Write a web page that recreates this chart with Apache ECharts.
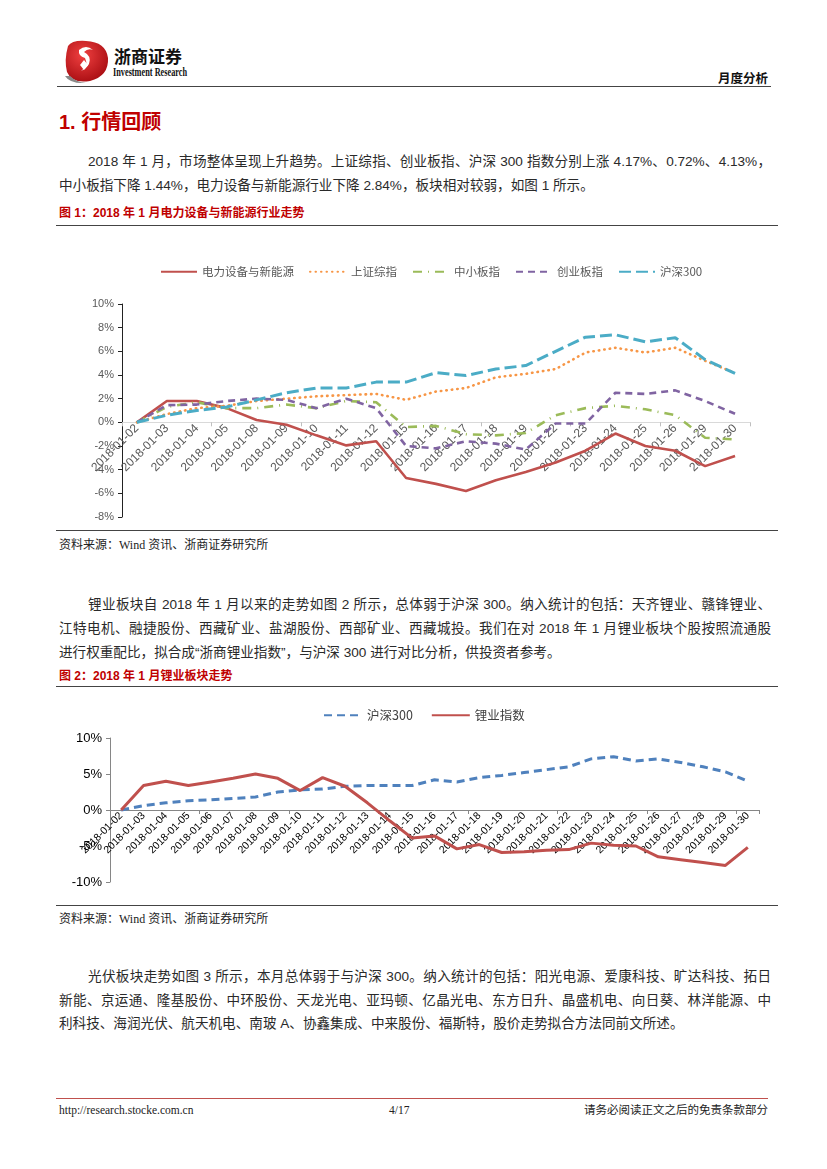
<!DOCTYPE html>
<html>
<head>
<meta charset="utf-8">
<script src="https://cdn.jsdelivr.net/npm/echarts@6/dist/echarts.min.js"></script>
<style>
  html,body{margin:0;padding:0;background:#fff;}
  body{width:827px;height:1169px;position:relative;overflow:hidden;font-family:'Liberation Sans','Noto Sans CJK SC',sans-serif;color:#1a1a1a;}
  .abs{position:absolute;white-space:nowrap;}
  .line{position:absolute;height:0;}
  .para{position:absolute;font-size:13.6px;line-height:24px;height:24px;text-align:justify;text-align-last:justify;white-space:nowrap;color:#2a2a2a;}
  .last{text-align-last:left;}
  .cap{position:absolute;font-size:12px;font-weight:bold;color:#C00000;line-height:16px;}
  .src{position:absolute;font-size:12px;font-family:'Liberation Serif','Noto Sans CJK SC',serif;color:#222;line-height:16px;}
</style>
</head>
<body>
<script>
// ---------- data ----------
var categories1 = ['2018-01-02','2018-01-03','2018-01-04','2018-01-05','2018-01-08','2018-01-09','2018-01-10','2018-01-11','2018-01-12','2018-01-15','2018-01-16','2018-01-17','2018-01-18','2018-01-19','2018-01-22','2018-01-23','2018-01-24','2018-01-25','2018-01-26','2018-01-29','2018-01-30'];
var names1 = ['电力设备与新能源','上证综指','中小板指','创业板指','沪深300'];
var powerNew   = [0,1.8,1.8,1.2,0.2,-0.2,-1.1,-1.95,-1.6,-4.7,-5.2,-5.8,-4.9,-4.2,-3.4,-2.4,-0.95,-2.0,-2.4,-3.7,-2.84];
var shComp     = [0,0.7,1.2,1.4,1.8,2.0,2.2,2.3,2.4,1.9,2.6,2.9,3.8,4.1,4.5,5.9,6.3,5.9,6.3,5.2,4.17];
var smeBoard   = [0,1.3,1.7,1.2,1.2,1.5,1.2,1.8,1.7,-0.4,-0.3,-1.0,-1.1,-0.9,0.6,1.2,1.4,1.1,0.6,-1.3,-1.44];
var chinext    = [0,1.45,1.5,1.8,2.0,1.9,1.2,2.0,1.2,-2.0,-2.2,-1.6,-1.8,-2.3,-0.1,-0.1,2.5,2.4,2.7,1.8,0.72];
var hs300a     = [0,0.6,1.0,1.3,1.9,2.5,2.9,2.9,3.4,3.4,4.2,3.95,4.5,4.8,6.0,7.2,7.4,6.8,7.15,5.3,4.13];

var categories2 = ['2018-01-02','2018-01-03','2018-01-04','2018-01-05','2018-01-06','2018-01-07','2018-01-08','2018-01-09','2018-01-10','2018-01-11','2018-01-12','2018-01-13','2018-01-14','2018-01-15','2018-01-16','2018-01-17','2018-01-18','2018-01-19','2018-01-20','2018-01-21','2018-01-22','2018-01-23','2018-01-24','2018-01-25','2018-01-26','2018-01-27','2018-01-28','2018-01-29','2018-01-30'];
var names2 = ['沪深300','锂业指数'];
var hs300b     = [0,0.6,1.0,1.3,1.4,1.6,1.8,2.5,2.8,2.9,3.3,3.4,3.4,3.4,4.2,3.9,4.5,4.8,5.2,5.6,6.0,7.1,7.4,6.8,7.1,6.6,6.0,5.3,4.0];
var lithium    = [0,3.4,4.0,3.4,3.9,4.4,5.0,4.4,2.7,4.5,3.3,1.0,-1.5,-3.9,-3.6,-5.4,-4.8,-5.9,-5.8,-5.6,-5.5,-4.6,-4.9,-5.0,-6.5,-6.9,-7.3,-7.7,-5.2];

var yTicks1 = {min:-8, max:10, interval:2};
var yTicks2 = {min:-10, max:10, interval:5};
</script>

<!-- header -->
<svg class="abs" style="left:62px;top:38px;" width="50" height="46" viewBox="0 0 50 46">
  <defs>
    <radialGradient id="lg" cx="40%" cy="35%" r="70%">
      <stop offset="0%" stop-color="#f04040"/>
      <stop offset="100%" stop-color="#a80d12"/>
    </radialGradient>
  </defs>
  <path d="M6 8 Q10 2 24 3 Q44 4 46 20 Q47 38 28 43 Q10 46 5 34 Q2 22 6 8 Z" fill="url(#lg)"/>
  <path d="M3 38 Q8 46 24 45 Q14 44 8 38 Z" fill="#888"/>
  <path d="M17 12 Q24 6 31 12 Q26 10 22 14 Q30 18 27 26 Q24 31 19 33 Q27 28 23 20 Q16 18 17 12 Z" fill="#fff"/>
  <path d="M22 22 L26 27 L22 32 L18 27 Z" fill="#fff"/>
</svg>
<div class="abs" style="left:114px;top:45px;font-size:17px;font-weight:bold;font-family:'Noto Sans CJK SC';line-height:22px;color:#111;">浙商证券</div>
<div class="abs" style="left:113px;top:66px;font-size:11.5px;font-weight:bold;font-family:'Liberation Serif';line-height:13px;color:#111;transform:scaleX(0.72);transform-origin:left top;">Investment Research</div>
<div class="abs" style="left:718px;top:69px;font-size:12.5px;font-weight:bold;font-family:'Noto Sans CJK SC';line-height:17px;color:#111;">月度分析</div>
<div class="line" style="left:57px;top:86px;width:714px;border-top:1.5px solid #444;"></div>

<div class="abs" style="left:59px;top:108px;font-size:20px;font-weight:bold;color:#C00000;line-height:28px;font-family:'Liberation Sans','Noto Sans CJK SC';">1. 行情回顾</div>

<div class="para" style="left:88px;top:150px;width:683px;">2018 年 1 月，市场整体呈现上升趋势。上证综指、创业板指、沪深 300 指数分别上涨 4.17%、0.72%、4.13%，</div>
<div class="para last" style="left:59px;top:174px;width:712px;">中小板指下降 1.44%，电力设备与新能源行业下降 2.84%，板块相对较弱，如图 1 所示。</div>

<div class="cap" style="left:59px;top:205px;">图 1：2018 年 1 月电力设备与新能源行业走势</div>
<div class="line" style="left:56px;top:225px;width:722px;border-top:1.5px solid #444;"></div>

<div id="c1" style="position:absolute;left:0;top:230px;width:827px;height:296px;"></div>

<div class="line" style="left:56px;top:530px;width:722px;border-top:1.5px solid #444;"></div>
<div class="src" style="left:59px;top:537px;">资料来源：Wind 资讯、浙商证券研究所</div>

<div class="para" style="left:88px;top:593px;width:683px;">锂业板块自 2018 年 1 月以来的走势如图 2 所示，总体弱于沪深 300。纳入统计的包括：天齐锂业、赣锋锂业、</div>
<div class="para" style="left:59px;top:617px;width:712px;">江特电机、融捷股份、西藏矿业、盐湖股份、西部矿业、西藏城投。我们在对 2018 年 1 月锂业板块个股按照流通股</div>
<div class="para last" style="left:59px;top:641px;width:712px;">进行权重配比，拟合成“浙商锂业指数”，与沪深 300 进行对比分析，供投资者参考。</div>

<div class="cap" style="left:59px;top:668px;">图 2：2018 年 1 月锂业板块走势</div>
<div class="line" style="left:56px;top:686px;width:722px;border-top:1.5px solid #444;"></div>

<div id="c2" style="position:absolute;left:0;top:690px;width:827px;height:212px;"></div>

<div class="line" style="left:56px;top:905px;width:722px;border-top:1.5px solid #444;"></div>
<div class="src" style="left:59px;top:911px;">资料来源：Wind 资讯、浙商证券研究所</div>

<div class="para" style="left:88px;top:965px;width:683px;">光伏板块走势如图 3 所示，本月总体弱于与沪深 300。纳入统计的包括：阳光电源、爱康科技、旷达科技、拓日</div>
<div class="para" style="left:59px;top:989px;width:712px;">新能、京运通、隆基股份、中环股份、天龙光电、亚玛顿、亿晶光电、东方日升、晶盛机电、向日葵、林洋能源、中</div>
<div class="para last" style="left:59px;top:1012px;width:712px;">利科技、海润光伏、航天机电、南玻 A、协鑫集成、中来股份、福斯特，股价走势拟合方法同前文所述。</div>

<div class="line" style="left:56px;top:1098px;width:712px;border-top:1px solid #c0504d;"></div>
<div class="src" style="left:59px;top:1102px;font-size:11.5px;">http://research.stocke.com.cn</div>
<div class="src" style="left:389px;top:1102px;font-size:11.5px;">4/17</div>
<div class="src" style="left:580px;top:1102px;width:188px;text-align:right;font-size:11.5px;">请务必阅读正文之后的免责条款部分</div>

<script>
function placeLabelsOnZero(chart, yMin){
  var zeroPx = chart.convertToPixel({yAxisIndex:0}, 0);
  var botPx = chart.convertToPixel({yAxisIndex:0}, yMin);
  chart.setOption({xAxis:[{}, {offset: zeroPx - botPx}]});
}

var c1 = echarts.init(document.getElementById('c1'), null, {renderer:'canvas'});
var styles1 = [
  {color:'#C0504D', width:2.6, type:'solid'},
  {color:'#F79646', width:2.6, type:[0.5,5], cap:'round'},
  {color:'#9BBB59', width:2.6, type:[9,6,1,6], cap:'butt'},
  {color:'#8064A2', width:2.6, type:[7,5]},
  {color:'#4BACC6', width:3, type:[12,5]}
];
var data1 = [powerNew, shComp, smeBoard, chinext, hs300a];
c1.setOption({
  animation:false,
  legend:{
    left:155, top:31, itemWidth:36, itemHeight:10, itemGap:15,
    itemStyle:{opacity:0},
    textStyle:{color:'#595959', fontSize:11.5, fontFamily:'Noto Sans CJK SC'},
    data:names1
  },
  grid:{left:122, right:77, top:74, bottom:9, containLabel:false, outerBoundsMode:'none'},
  xAxis:[{
    type:'category', data:categories1, boundaryGap:true,
    axisLine:{onZero:true, lineStyle:{color:'#d9d9d9', width:1}},
    axisTick:{show:true, length:4, lineStyle:{color:'#bfbfbf'}},
    axisLabel:{show:false}
  },{
    type:'category', data:categories1, boundaryGap:true, position:'bottom', offset:0,
    axisLine:{show:false, onZero:false}, axisTick:{show:false},
    axisLabel:{rotate:45, interval:0, fontSize:12, color:'#595959', margin:4, fontFamily:'Liberation Sans'}
  }],
  yAxis:{
    type:'value', min:yTicks1.min, max:yTicks1.max, interval:yTicks1.interval,
    splitLine:{show:false},
    axisLine:{show:true, lineStyle:{color:'#222', width:1}},
    axisTick:{show:true, length:4, lineStyle:{color:'#222'}},
    axisLabel:{formatter:'{value}%', fontSize:11, color:'#595959', margin:8, fontFamily:'Liberation Sans'}
  },
  series: names1.map(function(n,i){
    return {name:n, type:'line', data:data1[i], xAxisIndex:0, symbol:'none', smooth:false,
      lineStyle:styles1[i], itemStyle:{color:styles1[i].color}, z:2+i};
  })
});
placeLabelsOnZero(c1, yTicks1.min);

var c2 = echarts.init(document.getElementById('c2'), null, {renderer:'canvas'});
var styles2 = [
  {color:'#4F81BD', width:3, type:[8,5]},
  {color:'#C0504D', width:3, type:'solid'}
];
var data2 = [hs300b, lithium];
c2.setOption({
  animation:false,
  legend:{
    left:318, top:14, itemWidth:38, itemHeight:10, itemGap:18,
    itemStyle:{opacity:0},
    textStyle:{color:'#404040', fontSize:12.5, fontFamily:'Noto Sans CJK SC'},
    data:names2
  },
  grid:{left:110, right:68, top:48, bottom:20, containLabel:false, outerBoundsMode:'none'},
  xAxis:[{
    type:'category', data:categories2, boundaryGap:true,
    axisLine:{onZero:true, lineStyle:{color:'#868686', width:1}},
    axisTick:{show:true, length:4, lineStyle:{color:'#868686'}},
    axisLabel:{show:false}
  },{
    type:'category', data:categories2, boundaryGap:true, position:'bottom', offset:0,
    axisLine:{show:false, onZero:false}, axisTick:{show:false},
    axisLabel:{rotate:45, interval:0, fontSize:10.5, color:'#000', margin:4, fontFamily:'Liberation Sans'}
  }],
  yAxis:{
    type:'value', min:yTicks2.min, max:yTicks2.max, interval:yTicks2.interval,
    splitLine:{show:false},
    axisLine:{show:true, lineStyle:{color:'#868686', width:1}},
    axisTick:{show:true, length:4, lineStyle:{color:'#868686'}},
    axisLabel:{formatter:'{value}%', fontSize:13, color:'#000', margin:8, fontFamily:'Liberation Sans'}
  },
  series: names2.map(function(n,i){
    return {name:n, type:'line', data:data2[i], xAxisIndex:0, symbol:'none', smooth:false,
      lineStyle:styles2[i], itemStyle:{color:styles2[i].color}, z:2+i};
  })
});
placeLabelsOnZero(c2, yTicks2.min);
</script>
</body>
</html>
